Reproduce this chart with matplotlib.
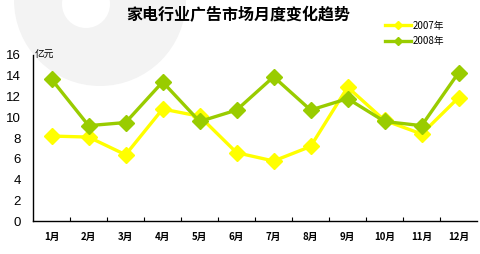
import matplotlib.pyplot as plt
from matplotlib.lines import Line2D
from matplotlib.patches import Circle

# monthly values (亿元)
months = ['1月', '2月', '3月', '4月', '5月', '6月', '7月', '8月', '9月', '10月', '11月', '12月']
y2007 = [8.2, 8.1, 6.4, 10.8, 10.1, 6.6, 5.8, 7.2, 12.9, 9.7, 8.4, 11.9]
y2008 = [13.65, 9.2, 9.5, 13.4, 9.6, 10.7, 13.9, 10.7, 11.8, 9.6, 9.2, 14.3]
yticks = [0, 2, 4, 6, 8, 10, 12, 14, 16]

cjk = ['Noto Sans CJK SC', 'DejaVu Sans']
yellow = '#FFFF00'
green = '#99CC00'

fig = plt.figure(figsize=(4.8, 2.54), dpi=100, facecolor='white')

# faint watermark circle top left
bg = fig.add_axes([0, 0, 1, 1], zorder=0)
bg.set_xlim(0, 480)
bg.set_ylim(254, 0)
bg.axis('off')
bg.add_patch(Circle((100, 0), 86, color='#f3f3f3', lw=0))
bg.add_patch(Circle((86, 4), 24, color='white', lw=0))

ax = fig.add_axes([0.069, 0.1287, 0.925, 0.655], zorder=1)
ax.patch.set_alpha(0)
x = list(range(len(months)))
ax.plot(x, y2007, color=yellow, lw=2.4, marker='D', ms=8, zorder=3)
ax.plot(x, y2008, color=green, lw=2.4, marker='D', ms=8, zorder=4)

ax.set_xlim(-0.5, 11.5)
ax.set_ylim(0, 16)
ax.set_yticks(yticks)
ax.set_yticklabels([str(v) for v in yticks], fontsize=9.5, family='Liberation Sans')
ax.tick_params(axis='y', length=0, pad=9)
ax.set_xticks(x)
ax.set_xticklabels(months, fontsize=7, family=cjk, fontweight='bold')
ax.tick_params(axis='x', which='major', length=0, pad=8)
ax.set_xticks([i + 0.5 for i in x[:-1]], minor=True)
ax.tick_params(axis='x', which='minor', direction='in', length=3, width=0.8)
for s in ['top', 'right']:
    ax.spines[s].set_visible(False)
for s in ['left', 'bottom']:
    ax.spines[s].set_linewidth(1.0)
    ax.spines[s].set_color('black')

fig.text(0.072, 0.785, '亿元', fontsize=7, family=cjk, va='center', ha='left')
fig.text(0.497, 0.94, '家电行业广告市场月度变化趋势', fontsize=11.5, family=cjk,
         fontweight='bold', ha='center', va='center')

handles = [Line2D([], [], color=yellow, lw=2.4, marker='D', ms=4),
           Line2D([], [], color=green, lw=2.4, marker='D', ms=4)]
fig.legend(handles, ['2007年', '2008年'], loc='upper left', bbox_to_anchor=(0.792, 0.937),
           frameon=False, prop={'family': cjk, 'size': 7}, handlelength=2.7,
           handletextpad=0.15, labelspacing=0.55, borderpad=0)

fig.savefig('out.png', dpi=100, facecolor='white')
